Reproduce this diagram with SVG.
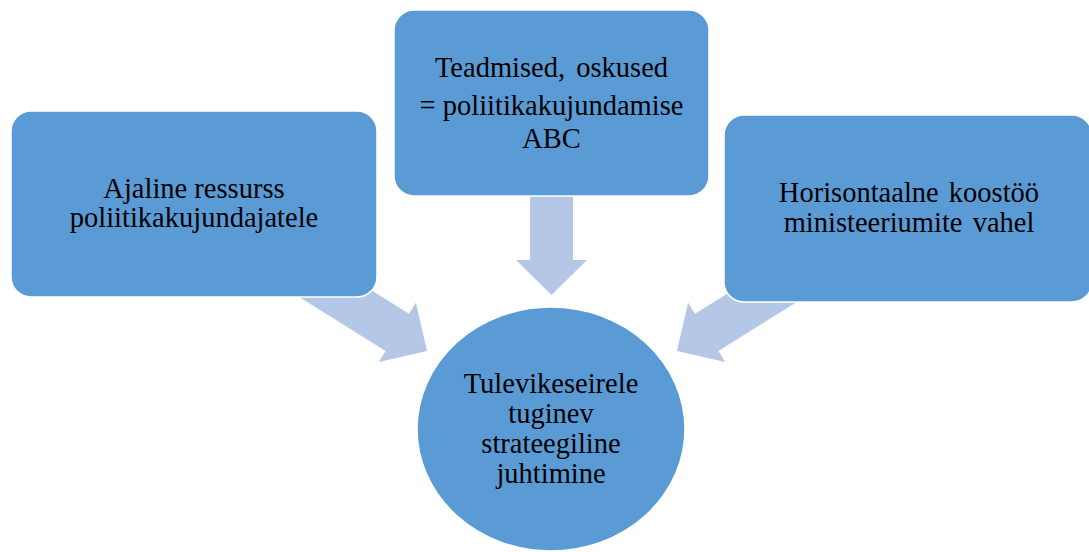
<svg xmlns="http://www.w3.org/2000/svg" width="1089" height="552" viewBox="0 0 1089 552">
<style>
.box{fill:#5B9BD5;stroke:#FFFFFF;stroke-width:1.5}
.arrow{fill:#B4C7E7;stroke:none}
.t{font-family:"Liberation Serif","Times New Roman",serif;font-size:28.5px;fill:#000000;text-anchor:middle}
</style>
<rect width="1089" height="552" fill="#FFFFFF"/>
<g id="connectors">
<polygon class="arrow" points="530,190 573,190 573,260 587,260 551.5,295 516,260 530,260"/>
<polygon class="arrow" points="292.3,292.8 315.7,255.5 409,313.8 415.9,302.8 427,351 378.8,362.1 385.6,351.1"/>
<polygon class="arrow" points="811.7,292.8 788.3,255.5 695,313.8 688.1,302.8 677,351 725.2,362.1 718.4,351.1"/>
</g>
<g id="node-left">
<rect class="box" x="11" y="111" width="366" height="186" rx="20" ry="20"/>
<text class="t" x="194" y="198">Ajaline ressurss</text>
<text class="t" x="194" y="227">poliitikakujundajatele</text>
</g>
<g id="node-top">
<rect class="box" x="394" y="10" width="315" height="186" rx="20" ry="20"/>
<text class="t" x="551.5" y="77" word-spacing="4">Teadmised, oskused</text>
<text class="t" x="551.5" y="115">= poliitikakujundamise</text>
<text class="t" x="551.5" y="148">ABC</text>
</g>
<g id="node-right">
<rect class="box" x="724" y="115" width="368" height="187" rx="20" ry="20"/>
<text class="t" x="909" y="202" word-spacing="3">Horisontaalne koostöö</text>
<text class="t" x="909" y="232" word-spacing="3">ministeeriumite vahel</text>
</g>
<g id="node-center">
<ellipse class="box" cx="551" cy="429" rx="134" ry="122"/>
<text class="t" x="551" y="393">Tulevikeseirele</text>
<text class="t" x="551" y="423">tuginev</text>
<text class="t" x="551" y="453">strateegiline</text>
<text class="t" x="551" y="483">juhtimine</text>
</g>
</svg>
